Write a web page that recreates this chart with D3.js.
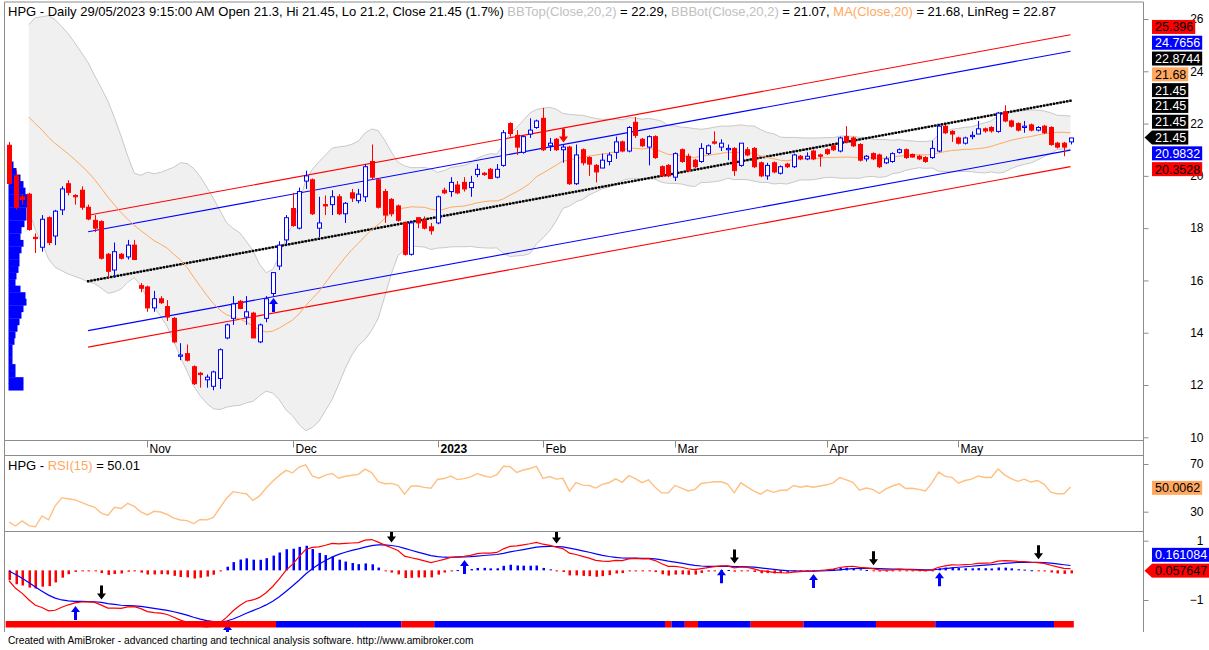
<!DOCTYPE html>
<html>
<head>
<meta charset="utf-8">
<script src="https://cdn.jsdelivr.net/npm/d3@7"></script>
<style>
body { margin: 0; background: #fff; }
text { font-family: "Liberation Sans", Arial, sans-serif; }
</style>
</head>
<body>
<svg id="chart" width="1209" height="650"></svg>
<script>
// ---------- data (HPG daily, Oct 2022 - 29 May 2023) ----------
var monthLabels = ['Nov', 'Dec', '2023', 'Feb', 'Mar', 'Apr', 'May'];
var monthStartBars = [21, 43, 65, 81, 101, 124, 144];

// Sep 2022 closes loaded before the visible range (indicator warm-up only)
var priorCloses = [22.8, 23.0, 23.2, 23.3, 23.5, 23.4, 23.6, 23.5,
  23.3, 23.6, 23.4, 23.2, 23.0, 22.8, 22.3, 21.6];

var open = [21.17, 20.0, 19.2, 19.3, 17.65, 17.27, 18.4, 17.7, 18.7, 19.7,
  19.25, 19.45, 18.8, 18.3, 18.25, 17.0, 16.4, 17.0, 16.9, 17.35,
  15.8, 15.75, 14.95, 15.3, 15.0, 14.55, 13.1, 13.2, 12.7, 12.45,
  12.2, 11.95, 12.25, 13.8, 14.55, 15.2, 14.6, 14.75, 13.65, 14.55,
  15.5, 16.55, 17.55, 18.75, 18.0, 19.8, 19.85, 18.0, 18.9, 18.9,
  19.2, 18.55, 19.35, 19.05, 19.2, 20.55, 19.85, 19.4, 19.1, 18.85,
  18.2, 17.0, 18.4, 18.3, 18.05, 18.2, 19.45, 19.4, 19.65, 19.75,
  19.55, 20.05, 20.1, 20.25, 19.95, 20.4, 22.0, 21.55, 20.9, 21.6,
  21.85, 22.2, 21.15, 21.4, 21.0, 21.1, 19.7, 21.0, 20.7, 20.4,
  20.3, 20.55, 20.9, 21.3, 20.95, 22.05, 21.4, 21.1, 21.5, 20.35,
  20.4, 19.95, 21.0, 20.75, 20.6, 20.55, 20.85, 21.3, 21.1, 21.0,
  21.05, 20.4, 21.0, 21.05, 20.5, 20.0, 20.5, 20.1, 20.45, 20.35,
  20.75, 20.65, 20.95, 20.8, 21.0, 21.15, 20.95, 21.5, 21.45, 21.2,
  20.65, 20.85, 20.8, 20.5, 20.55, 20.9, 21.0, 20.82, 20.75, 20.7,
  20.7, 20.95, 21.9, 21.7, 21.45, 21.25, 21.5, 21.6, 21.8, 21.85,
  21.7, 22.45, 22.1, 22.0, 21.85, 21.95, 21.75, 21.9, 21.85, 21.25,
  21.25, 21.3];
var high = [21.3, 20.2, 19.3, 19.35, 17.8, 18.5, 18.45, 18.7, 19.6, 19.83,
  19.3, 19.6, 18.9, 18.5, 18.3, 17.05, 17.45, 17.05, 17.55, 17.55,
  15.9, 15.8, 15.6, 15.4, 15.25, 14.6, 13.6, 13.55, 12.75, 12.5,
  12.4, 12.55, 13.4, 14.35, 15.4, 15.25, 15.4, 14.8, 14.35, 15.4,
  16.3, 17.5, 18.5, 19.35, 19.55, 20.2, 19.9, 19.2, 19.25, 19.45,
  19.3, 19.0, 19.5, 19.5, 20.45, 21.2, 19.9, 19.5, 19.15, 18.9,
  18.25, 18.25, 18.4, 18.45, 18.2, 19.25, 19.55, 19.95, 19.8, 19.95,
  20.0, 20.45, 20.15, 20.3, 20.45, 21.75, 22.05, 21.75, 21.55, 22.2,
  22.15, 22.6, 21.45, 21.45, 21.2, 21.15, 21.2, 21.05, 20.75, 20.45,
  20.85, 20.9, 21.5, 21.35, 21.9, 22.25, 21.45, 21.55, 21.55, 20.4,
  20.45, 20.9, 21.05, 20.85, 20.65, 21.25, 21.2, 21.7, 21.4, 21.2,
  21.1, 21.25, 21.1, 21.1, 20.55, 20.5, 20.55, 20.4, 20.5, 20.85,
  20.8, 20.9, 21.0, 20.85, 21.05, 21.2, 21.5, 21.9, 21.5, 21.25,
  20.8, 20.9, 20.85, 20.75, 20.9, 21.05, 21.05, 20.85, 20.8, 20.75,
  21.35, 21.95, 21.95, 21.75, 21.5, 21.5, 21.7, 22.1, 21.85, 21.9,
  22.45, 22.7, 22.15, 22.05, 22.1, 22.0, 21.9, 21.95, 21.9, 21.3,
  21.3, 21.45];
var low = [19.65, 18.7, 18.9, 17.9, 17.05, 17.1, 17.35, 17.35, 18.5, 19.25,
  18.9, 18.7, 18.3, 17.85, 16.8, 16.1, 16.1, 16.8, 16.8, 16.8,
  15.55, 14.8, 14.8, 15.1, 14.45, 13.6, 12.95, 12.9, 12.0, 11.9,
  11.9, 11.8, 11.85, 13.75, 14.3, 14.9, 14.3, 13.8, 13.6, 14.4,
  15.4, 16.4, 17.35, 18.05, 17.95, 19.5, 18.5, 17.65, 18.5, 18.5,
  18.5, 18.2, 19.0, 18.95, 19.0, 19.85, 18.75, 18.2, 18.45, 18.25,
  16.95, 16.95, 18.0, 17.95, 17.75, 18.15, 19.3, 19.2, 19.3, 19.4,
  19.2, 19.95, 20.0, 19.9, 19.9, 20.35, 21.5, 20.8, 20.85, 21.45,
  21.8, 20.95, 20.95, 20.95, 20.5, 19.65, 19.65, 20.4, 20.0, 19.75,
  20.3, 20.4, 20.65, 20.9, 20.9, 21.45, 21.1, 20.4, 20.65, 19.95,
  19.95, 19.8, 20.5, 20.15, 20.3, 20.5, 20.8, 21.2, 20.95, 20.6,
  20.0, 20.35, 20.75, 20.3, 19.95, 19.85, 20.1, 20.05, 20.3, 20.3,
  20.6, 20.6, 20.6, 20.35, 20.8, 20.95, 20.9, 21.25, 21.1, 20.55,
  20.55, 20.6, 20.3, 20.45, 20.5, 20.85, 20.65, 20.7, 20.6, 20.5,
  20.65, 20.9, 21.6, 21.3, 21.2, 21.2, 21.4, 21.6, 21.65, 21.65,
  21.65, 22.05, 21.85, 21.7, 21.65, 21.7, 21.7, 21.6, 21.15, 21.05,
  20.75, 21.2];
var close = [19.71, 18.8, 19.1, 17.95, 17.6, 18.34, 17.45, 18.65, 19.5, 19.37,
  19.2, 18.8, 18.35, 18.0, 16.85, 16.35, 17.1, 16.85, 17.35, 16.8,
  15.7, 14.95, 15.3, 15.15, 14.6, 13.65, 13.15, 12.95, 12.05, 12.4,
  12.3, 12.5, 13.35, 14.3, 15.1, 14.93, 14.8, 13.8, 14.3, 15.3,
  16.3, 17.35, 18.4, 18.1, 19.4, 20.0, 18.55, 18.2, 18.85, 19.2,
  18.55, 18.95, 19.15, 19.3, 20.35, 19.95, 18.8, 18.5, 18.55, 18.3,
  17.0, 18.2, 18.2, 18.0, 17.9, 19.2, 19.35, 19.75, 19.35, 19.5,
  19.75, 20.25, 20.05, 19.9, 20.25, 21.65, 21.62, 21.1, 21.5, 21.75,
  22.1, 21.0, 21.25, 21.0, 21.1, 19.7, 20.8, 20.5, 20.45, 20.15,
  20.6, 20.8, 21.3, 20.95, 21.85, 21.55, 21.15, 21.5, 20.7, 20.0,
  20.0, 20.85, 20.55, 20.2, 20.35, 21.05, 21.15, 21.25, 21.25, 21.05,
  20.2, 21.25, 20.8, 20.35, 20.0, 20.4, 20.15, 20.35, 20.35, 20.8,
  20.65, 20.75, 20.65, 20.75, 20.85, 21.0, 21.45, 21.3, 21.15, 20.6,
  20.75, 20.65, 20.35, 20.65, 20.85, 21.0, 20.7, 20.72, 20.65, 20.55,
  21.05, 21.9, 21.65, 21.6, 21.25, 21.45, 21.55, 21.8, 21.72, 21.72,
  22.4, 22.1, 21.9, 21.75, 21.9, 21.75, 21.85, 21.65, 21.2, 21.1,
  21.1, 21.45];

// volume-at-price profile, bins of 0.25 from the top price downwards
var profileTop = 20.55;
var profileStep = 0.25;
var profileVol = [5, 8, 12, 15, 17, 19, 19, 18, 18, 16, 13, 12, 15, 13, 11, 11, 10, 8,
  7, 12, 17, 18, 15, 13, 11, 9, 7, 6, 4, 4, 4, 7, 7, 15, 15];

// linear regression channel (last 150 bars)
var linRegFirstBar = 12;
var linRegBegin = 15.97;
var linRegEnd = 22.8744;
var linRegStd = 1.2608;

// signal bars
var priceBuyBars = [40];
var priceSellBars = [84];
var macdBuyBars = [10, 33, 69, 108, 122, 141];
var macdSellBars = [14, 58, 83, 110, 131, 156];

// trend ribbon under the MACD pane: [first bar, last bar, up?]
var ribbon = [[0, 40, 0], [41, 59, 1], [60, 64, 0], [65, 99, 1], [100, 100, 0],
  [101, 102, 1], [103, 104, 0], [105, 112, 1], [113, 120, 0], [121, 131, 1],
  [132, 140, 0], [141, 158, 1], [159, 161, 0]];

var priceTicks = [10, 12, 14, 16, 18, 20, 22, 24, 26];
var rsiTicks = [30, 70];
var macdTicks = [-1, 1];

// value tags at the right edge
var priceTags = [
  {text: '25.396', bg: '#ff0000', fg: '#000'},
  {text: '24.7656', bg: '#0000ff', fg: '#fff'},
  {text: '22.8744', bg: '#000000', fg: '#fff'},
  {text: '21.68', bg: '#ffa860', fg: '#000'},
  {text: '21.45', bg: '#000000', fg: '#fff'},
  {text: '21.45', bg: '#000000', fg: '#fff'},
  {text: '21.45', bg: '#000000', fg: '#fff'},
  {text: '21.45', bg: '#000000', fg: '#fff', arrow: true},
  {text: '20.9832', bg: '#0000ff', fg: '#fff'},
  {text: '20.3528', bg: '#ff0000', fg: '#000'}
];
var rsiTag = {text: '50.0062', value: 50.0062, bg: '#ffa860', fg: '#000'};
var macdTags = [
  {text: '0.161084', bg: '#0000ff', fg: '#fff'},
  {text: '0.057647', value: 0.057647, bg: '#ff0000', fg: '#000', arrow: true}
];

// ---------- indicators ----------
var np = priorCloses.length;
var allClose = priorCloses.concat(close);
var nBars = close.length;

function sma(arr, i, n) {
  var s = 0;
  for (var k = i - n + 1; k <= i; k++) s += arr[k];
  return s / n;
}
function sdev(arr, i, n) {
  var m = sma(arr, i, n), s = 0;
  for (var k = i - n + 1; k <= i; k++) s += (arr[k] - m) * (arr[k] - m);
  return Math.sqrt(s / n);
}
function ema(arr, n) {
  var k = 2 / (n + 1), out = [arr[0]];
  for (var i = 1; i < arr.length; i++) out.push(arr[i] * k + out[i - 1] * (1 - k));
  return out;
}

var ma20 = [], bbTop = [], bbBot = [];
for (var i = 0; i < nBars; i++) {
  if (i + np < 19) { ma20.push(null); bbTop.push(null); bbBot.push(null); continue; }
  var m = sma(allClose, i + np, 20), sd = sdev(allClose, i + np, 20);
  ma20.push(m);
  bbTop.push(m + 2 * sd);
  bbBot.push(m - 2 * sd);
}

var e12 = ema(allClose, 12), e26 = ema(allClose, 26);
var macdAll = e12.map(function(v, i) { return v - e26[i]; });
var sigAll = ema(macdAll, 9);
var macd = macdAll.slice(np), signal = sigAll.slice(np);

// Wilder RSI(15)
var rsiAll = [], ag = 0, al = 0;
for (var i = 1; i < allClose.length; i++) {
  var ch = allClose[i] - allClose[i - 1];
  var g = ch > 0 ? ch : 0, l = ch < 0 ? -ch : 0;
  if (i <= 15) { ag += g / 15; al += l / 15; }
  else { ag = (ag * 14 + g) / 15; al = (al * 14 + l) / 15; }
  rsiAll[i] = al === 0 ? 100 : 100 - 100 / (1 + ag / al);
}
var rsi = rsiAll.slice(np);

// ---------- layout ----------
var svg = d3.select('#chart');
var L = 4.5, R = 1143.5;
var pTop = 2, pBot = 440.5, axBot = 455.5, rBot = 531.5, mBot = 632;

var x = d3.scaleLinear().domain([0, 161]).range([9, 1070.5]);
var y = d3.scaleLinear().domain([10, 26]).range([437.3, 19]);
var yRsi = d3.scaleLinear().domain([30, 70]).range([511.7, 464]);
var yMacd = d3.scaleLinear().domain([-1, 1]).range([600, 540.7]);
var wProfile = d3.scaleLinear().domain([0, 20]).range([0, 20]);

var defs = svg.append('defs');
function clip(id, y0, y1) {
  defs.append('clipPath').attr('id', id).append('rect')
    .attr('x', L).attr('y', y0).attr('width', R - L).attr('height', y1 - y0);
}
clip('cp-price', pTop, pBot);
clip('cp-rsi', axBot, rBot);
clip('cp-macd', rBot, mBot);

var gPrice = svg.append('g').attr('clip-path', 'url(#cp-price)');
var gRsi = svg.append('g').attr('clip-path', 'url(#cp-rsi)');
var gMacd = svg.append('g').attr('clip-path', 'url(#cp-macd)');
var idx = d3.range(nBars);
var has = function(i) { return ma20[i] !== null; };

// Bollinger bands
gPrice.append('path')
  .datum(idx)
  .attr('d', d3.area().defined(has).x(function(i) { return x(i); })
    .y0(function(i) { return y(bbBot[i]); })
    .y1(function(i) { return y(bbTop[i]); }))
  .attr('fill', '#f0f0f0');
[bbTop, bbBot].forEach(function(s) {
  gPrice.append('path')
    .datum(idx)
    .attr('d', d3.line().defined(has).x(function(i) { return x(i); }).y(function(i) { return y(s[i]); }))
    .attr('fill', 'none').attr('stroke', '#c8c8c8').attr('stroke-width', 1);
});

// volume at price
gPrice.append('g')
  .selectAll('rect')
  .data(profileVol)
  .enter()
  .append('rect')
  .attr('x', 8.5)
  .attr('y', function(v, k) { return y(profileTop - k * profileStep); })
  .attr('width', function(v) { return wProfile(v); })
  .attr('height', function(v, k) { return y(profileTop - (k + 1) * profileStep) - y(profileTop - k * profileStep) + 0.3; })
  .attr('fill', '#0000ff');

// regression channel
function linReg(i) {
  return linRegBegin + (linRegEnd - linRegBegin) * (i - linRegFirstBar) / (nBars - 1 - linRegFirstBar);
}
[[2, '#ff0000'], [1.5, '#0000ff'], [-1.5, '#0000ff'], [-2, '#ff0000']].forEach(function(c) {
  gPrice.append('line')
    .attr('x1', x(linRegFirstBar)).attr('x2', x(nBars - 1))
    .attr('y1', y(linReg(linRegFirstBar) + c[0] * linRegStd))
    .attr('y2', y(linReg(nBars - 1) + c[0] * linRegStd))
    .attr('stroke', c[1]).attr('stroke-width', 1.1);
});
gPrice.append('line')
  .attr('x1', x(linRegFirstBar)).attr('x2', x(nBars - 1))
  .attr('y1', y(linReg(linRegFirstBar))).attr('y2', y(linReg(nBars - 1)))
  .attr('stroke', '#444').attr('stroke-width', 0.8);
gPrice.append('g')
  .selectAll('rect')
  .data(d3.range(linRegFirstBar, nBars - 0.5, 0.5))
  .enter()
  .append('rect')
  .attr('x', function(i) { return x(i) - 1.2; })
  .attr('y', function(i) { return y(linReg(i)) - 1.2; })
  .attr('width', 2.4).attr('height', 2.4)
  .attr('fill', '#000');

// moving average
gPrice.append('path')
  .datum(idx)
  .attr('d', d3.line().defined(has).x(function(i) { return x(i); }).y(function(i) { return y(ma20[i]); }))
  .attr('fill', 'none').attr('stroke', '#ffa860').attr('stroke-width', 1);

// candles
var candles = gPrice.append('g')
  .selectAll('g')
  .data(idx)
  .enter()
  .append('g');
candles.append('line')
  .attr('x1', function(i) { return Math.round(x(i)) + 0.5; })
  .attr('x2', function(i) { return Math.round(x(i)) + 0.5; })
  .attr('y1', function(i) { return y(high[i]); })
  .attr('y2', function(i) { return y(low[i]); })
  .attr('stroke', function(i) { return close[i] >= open[i] ? '#0000ff' : '#ff0000'; })
  .attr('stroke-width', 1);
candles.append('rect')
  .attr('x', function(i) { return Math.round(x(i)) - 1.5; })
  .attr('y', function(i) { return y(Math.max(open[i], close[i])); })
  .attr('width', 4)
  .attr('height', function(i) { return Math.max(1, Math.abs(y(open[i]) - y(close[i]))); })
  .attr('fill', function(i) { return close[i] >= open[i] ? '#fff' : '#ff0000'; })
  .attr('stroke', function(i) { return close[i] >= open[i] ? '#0000ff' : '#ff0000'; })
  .attr('stroke-width', 1);

// arrows
function arrow(g, cx, tipY, dir, color) {
  // dir = -1 points up, 1 points down
  var len = 14, hw = 4.5, sw = 1.5, hl = 6;
  var b = tipY - dir * len, h = tipY - dir * hl;
  var pts = [[cx, tipY], [cx - hw, h], [cx - sw, h], [cx - sw, b], [cx + sw, b], [cx + sw, h], [cx + hw, h]];
  g.append('path').attr('d', d3.line()(pts) + 'Z').attr('fill', color);
}
priceBuyBars.forEach(function(i) { arrow(gPrice, Math.round(x(i)) + 0.5, y(low[i]) + 2, -1, '#0000ff'); });
priceSellBars.forEach(function(i) { arrow(gPrice, Math.round(x(i)) + 0.5, y(high[i]) - 2, 1, '#ff0000'); });

// RSI
gRsi.append('path')
  .datum(idx)
  .attr('d', d3.line().x(function(i) { return x(i); }).y(function(i) { return yRsi(rsi[i]); }))
  .attr('fill', 'none').attr('stroke', '#ffbf80').attr('stroke-width', 1.4);

// MACD histogram, lines, arrows, ribbon
gMacd.append('g')
  .selectAll('rect')
  .data(idx)
  .enter()
  .append('rect')
  .attr('x', function(i) { return Math.round(x(i)) - 0.5; })
  .attr('y', function(i) { return Math.min(yMacd(0), yMacd(macd[i] - signal[i])); })
  .attr('width', 2.5)
  .attr('height', function(i) { return Math.max(1, Math.abs(yMacd(macd[i] - signal[i]) - yMacd(0))); })
  .attr('fill', function(i) { return macd[i] >= signal[i] ? '#0000ff' : '#ff0000'; });
[[signal, '#0000ff'], [macd, '#ff0000']].forEach(function(s) {
  gMacd.append('path')
    .datum(idx)
    .attr('d', d3.line().x(function(i) { return x(i); }).y(function(i) { return yMacd(s[0][i]); }))
    .attr('fill', 'none').attr('stroke', s[1]).attr('stroke-width', 1.2);
});
macdBuyBars.forEach(function(i) {
  arrow(gMacd, Math.round(x(i)) + 0.5, Math.max(yMacd(macd[i]), yMacd(signal[i])) + 3, -1, '#0000ff');
});
macdSellBars.forEach(function(i) {
  arrow(gMacd, Math.round(x(i)) + 0.5, Math.min(yMacd(macd[i]), yMacd(signal[i])) - 3, 1, '#000');
});
gMacd.append('g')
  .selectAll('rect')
  .data(ribbon)
  .enter()
  .append('rect')
  .attr('x', function(d) { return x(d[0]) - 3.3; })
  .attr('width', function(d) { return x(d[1]) - x(d[0]) + 6.6; })
  .attr('y', 621).attr('height', 6.5)
  .attr('fill', function(d) { return d[2] ? '#0000ff' : '#ff0000'; });

// ---------- frames and axes ----------
var frame = svg.append('g').attr('stroke', '#8c8c8c').attr('stroke-width', 1);
frame.append('line').attr('x1', L).attr('x2', R).attr('y1', pTop).attr('y2', pTop);
frame.append('line').attr('x1', L).attr('x2', L).attr('y1', pTop).attr('y2', mBot);
frame.append('line').attr('x1', R).attr('x2', R).attr('y1', pTop).attr('y2', mBot);
[pBot, axBot, rBot].forEach(function(v) {
  frame.append('line').attr('x1', L).attr('x2', R).attr('y1', v).attr('y2', v);
});

function rightAxis(scale, ticks) {
  var g = svg.append('g')
    .attr('transform', 'translate(' + R + ',0)')
    .call(d3.axisRight(scale).tickValues(ticks).tickSize(5).tickSizeOuter(0).tickFormat(d3.format('d')));
  g.select('.domain').remove();
  g.selectAll('line').attr('stroke', '#8c8c8c');
  g.selectAll('text')
    .attr('x', 60).attr('text-anchor', 'end')
    .attr('font-family', '"Liberation Sans", Arial, sans-serif')
    .attr('font-size', 12).attr('fill', '#000');
}
rightAxis(y, priceTicks);
rightAxis(yRsi, rsiTicks);
rightAxis(yMacd, macdTicks);

// month axis
var xa = svg.append('g');
monthStartBars.forEach(function(b, k) {
  var px = Math.round(x(b)) + 0.5;
  xa.append('line').attr('x1', px).attr('x2', px).attr('y1', pBot).attr('y2', pBot + 7)
    .attr('stroke', '#8c8c8c');
  xa.append('text').attr('x', px + 2).attr('y', 453)
    .attr('font-size', 12)
    .attr('font-weight', monthLabels[k] === '2023' ? 'bold' : 'normal')
    .text(monthLabels[k]);
});

// ---------- tags ----------
function tag(t, cy) {
  var g = svg.append('g');
  var tx = g.append('text').attr('x', 1155).attr('y', cy + 4.5)
    .attr('font-size', 12.5).attr('fill', t.fg).text(t.text);
  var w = tx.node().getComputedTextLength();
  g.insert('rect', 'text').attr('x', 1152).attr('y', cy - 7).attr('width', w + 5).attr('height', 14)
    .attr('fill', t.bg);
  if (t.arrow) {
    g.insert('path', 'text').attr('d', 'M1144.5,' + cy + 'L1152,' + (cy - 7) + 'L1152,' + (cy + 7) + 'Z')
      .attr('fill', t.bg);
  }
}
var baseY = y(20.3528) + 2.5;
priceTags.slice().reverse().forEach(function(t, k) { tag(t, baseY - k * 15.8); });
tag(rsiTag, yRsi(rsiTag.value));
var mBase = yMacd(macdTags[1].value) + 2;
tag(macdTags[1], mBase);
tag(macdTags[0], mBase - 15.8);

// ---------- titles ----------
var t1 = svg.append('text').attr('x', 8).attr('y', 16).attr('font-size', 13);
[['HPG - Daily 29/05/2023 9:15:00 AM Open 21.3, Hi 21.45, Lo 21.2, Close 21.45 (1.7%) ', '#000'],
 ['BBTop(Close,20,2)', '#c0c0c0'], [' = 22.29, ', '#000'],
 ['BBBot(Close,20,2)', '#c0c0c0'], [' = 21.07, ', '#000'],
 ['MA(Close,20)', '#ffa860'], [' = 21.68, LinReg = 22.87', '#000']].forEach(function(p) {
  t1.append('tspan').attr('fill', p[1]).text(p[0]);
});
var t2 = svg.append('text').attr('x', 8).attr('y', 470).attr('font-size', 13);
[['HPG - ', '#000'], ['RSI(15)', '#ffa860'], [' = 50.01', '#000']].forEach(function(p) {
  t2.append('tspan').attr('fill', p[1]).text(p[0]);
});
svg.append('text').attr('x', 8).attr('y', 644).attr('font-size', 10.2).attr('fill', '#000')
  .text('Created with AmiBroker - advanced charting and technical analysis software. http://www.amibroker.com');
</script>
</body>
</html>
